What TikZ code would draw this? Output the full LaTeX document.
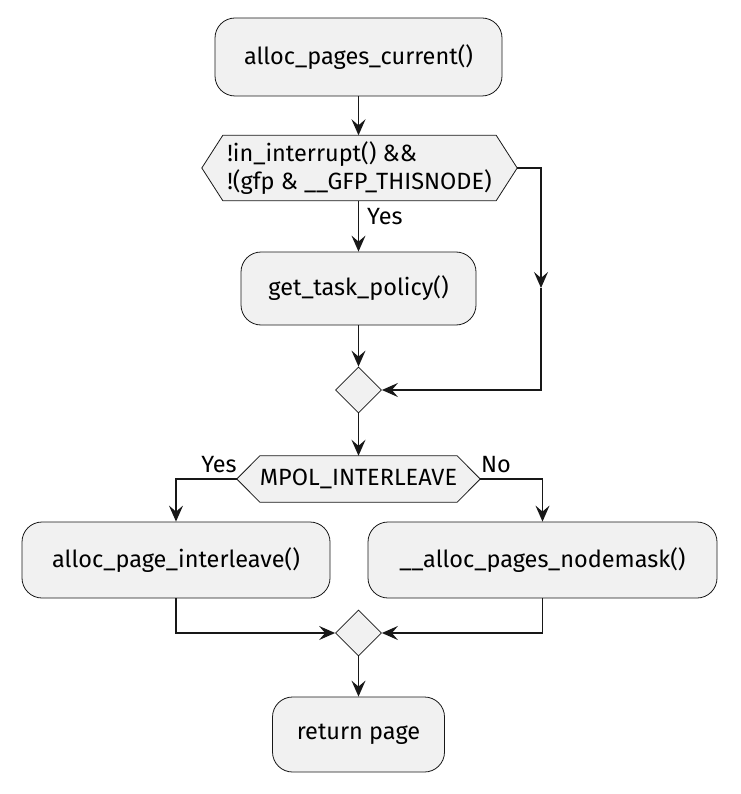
\documentclass[tikz,border=0pt]{standalone}
\usepackage{fontspec}
\setmainfont{Fira Sans}
\usetikzlibrary{arrows.meta,shapes.geometric}
\pgfdeclarelayer{bg}
\pgfsetlayers{bg,main}
\definecolor{boxfill}{HTML}{F1F1F1}
\definecolor{edge}{HTML}{181818}
\begin{document}
\begin{tikzpicture}[x=1pt,y=-1pt,
  txt/.style={font=\fontsize{23.5}{28}\selectfont, text=black},
  act/.style={txt, draw=edge, fill=boxfill, rounded corners=20pt, line width=0.8pt, inner sep=0pt},
  hexnode/.style={txt, inner sep=0pt, align=left},
  hexfill/.style={draw=edge, fill=boxfill, line width=0.8pt},
  merge/.style={draw=edge, fill=boxfill, diamond, line width=0.8pt, minimum width=46pt, minimum height=46pt, inner sep=0pt},
  flow/.style={draw=edge, line width=1.5pt, -{Stealth[length=16pt,width=14pt,inset=6pt]}},
  lbl/.style={txt, inner sep=0pt}]
\useasboundingbox (0,0) rectangle (740,794);

\node[act, minimum width=287pt, minimum height=78pt] (a1) at (358.5,57) {alloc\_pages\_current()};
\node[hexnode, minimum width=315pt, minimum height=65pt] (h1) at (359.5,168) {!in\_interrupt() \&\&\\!(gfp \& \_\_GFP\_THISNODE)};
\node[act, minimum width=235pt, minimum height=73pt] (t1) at (358.5,288.5) {get\_task\_policy()};
\node[merge] (d1) at (358.5,390) {};
\node[hexnode, minimum width=243pt, minimum height=46pt] (h2) at (358.5,479) {MPOL\_INTERLEAVE};
\node[act, minimum width=308pt, minimum height=76pt] (b1) at (176,560) {alloc\_page\_interleave()};
\node[act, minimum width=349pt, minimum height=76pt] (b2) at (542.5,560) {\_\_alloc\_pages\_nodemask()};
\node[merge] (d2) at (358.5,633) {};
\node[act, minimum width=172pt, minimum height=75pt] (r) at (358.5,734.5) {return page};

\begin{pgfonlayer}{bg}
\draw[hexfill] (h1.west) -- ([xshift=21pt]h1.north west) -- ([xshift=-21pt]h1.north east) -- (h1.east) -- ([xshift=-21pt]h1.south east) -- ([xshift=21pt]h1.south west) -- cycle;
\draw[hexfill] (h2.west) -- ([xshift=23pt]h2.north west) -- ([xshift=-23pt]h2.north east) -- (h2.east) -- ([xshift=-23pt]h2.south east) -- ([xshift=23pt]h2.south west) -- cycle;
\end{pgfonlayer}

\coordinate (r1) at (541,168);
\coordinate (rm) at (541,288);

\draw[flow] (a1.south) -- (a1.south |- h1.north);
\draw[flow] (h1.south -| a1.south) -- (t1.north);
\node[lbl, anchor=west] (y1) at (367,217) {Yes};
\draw[flow] (h1.east) -- (r1) -- (rm);
\draw[flow] (rm) |- (d1.east);
\draw[flow] (t1.south) -- (d1.north);
\draw[flow] (d1.south) -- (h2.north -| d1.south);
\draw[flow] (h2.west) -| (b1.north);
\draw[flow] (h2.east) -| (b2.north);
\node[lbl] (y2) at (219,465) {Yes};
\node[lbl] (n2) at (496,465) {No};
\draw[flow] (b1.south) |- (d2.west);
\draw[flow] (b2.south) |- (d2.east);
\draw[flow] (d2.south) -- (r.north);
\end{tikzpicture}
\end{document}
